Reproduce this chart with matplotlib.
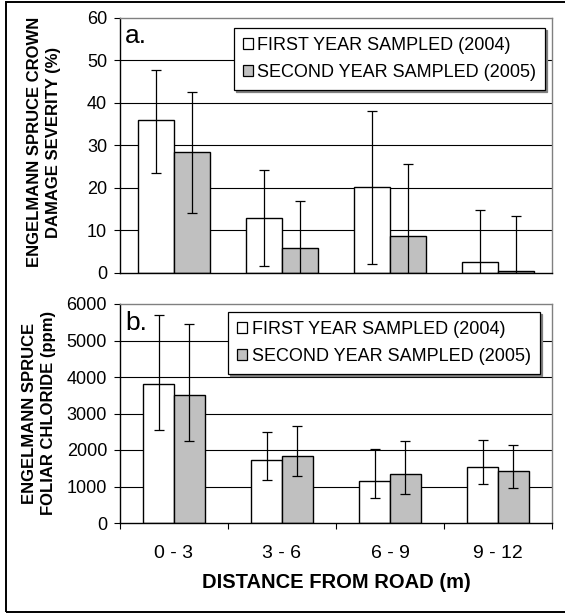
import matplotlib
matplotlib.use("Agg")
import matplotlib.pyplot as plt
from matplotlib.patches import Rectangle
import numpy as np

plt.rcParams['font.family'] = ['Liberation Sans', 'DejaVu Sans']

# distance classes
distances = ['0 - 3', '3 - 6', '6 - 9', '9 - 12']
series_names = ['FIRST YEAR SAMPLED (2004)', 'SECOND YEAR SAMPLED (2005)']

# a. crown damage severity (%) - bar value, error bar low end, error bar high end
sev_2004 = [36.0, 12.9, 20.2, 2.7]
sev_2004_lo = [23.5, 1.6, 2.1, -9.5]
sev_2004_hi = [47.8, 24.2, 38.2, 14.9]
sev_2005 = [28.5, 5.9, 8.6, 0.4]
sev_2005_lo = [14.1, -5.2, -8.4, -12.5]
sev_2005_hi = [42.5, 17.0, 25.6, 13.3]

# b. foliar chloride (ppm)
cl_2004 = [3800, 1735, 1160, 1535]
cl_2004_lo = [2550, 1190, 690, 1060]
cl_2004_hi = [5700, 2480, 2040, 2280]
cl_2005 = [3495, 1840, 1335, 1435]
cl_2005_lo = [2240, 1290, 790, 960]
cl_2005_hi = [5455, 2650, 2250, 2145]

sev_ticks = [0, 10, 20, 30, 40, 50, 60]
cl_ticks = [0, 1000, 2000, 3000, 4000, 5000, 6000]

W, H = 565, 613
fig = plt.figure(figsize=(W / 100, H / 100), dpi=100)

# outer frame
fig.patches.append(Rectangle((6 / W, 1 / H), 1.2, 1 - 3 / H, transform=fig.transFigure,
                             fill=False, edgecolor='black', lw=1.4))

ax1 = fig.add_axes([120 / W, 1 - 273 / H, 432 / W, 255 / H])
ax2 = fig.add_axes([120 / W, 1 - 523 / H, 432 / W, 219 / H])

colors = ['white', '#c0c0c0']


def draw_panel(ax, vals, los, his, width, ticks, label_letter, letter_y, leg_anchor):
    x = np.arange(len(distances))
    offsets = [-width / 2, width / 2]
    handles = []
    for k in range(2):
        v = np.array(vals[k], dtype=float)
        yerr = [v - np.array(los[k]), np.array(his[k]) - v]
        ax.bar(x + offsets[k], v, width=width, color=colors[k], edgecolor='black',
               linewidth=1.0, zorder=2)
        ax.errorbar(x + offsets[k], v, yerr=yerr, fmt='none', ecolor='black',
                    elinewidth=0.9, capsize=3.6, capthick=0.9, zorder=3)
        handles.append(Rectangle((0, 0), 1, 1, facecolor=colors[k], edgecolor='black', lw=0.9))
    ax.set_xlim(-0.5, len(distances) - 0.5)
    ax.set_ylim(ticks[0], ticks[-1])
    ax.set_yticks(ticks)
    for t in ticks[1:-1]:
        ax.axhline(t, color='black', lw=0.8, zorder=0)
    ax.tick_params(axis='y', direction='out', length=4.3, width=0.8, pad=5,
                   labelsize=13, colors='black')
    for s in ['top', 'right']:
        ax.spines[s].set_color('#808080')
        ax.spines[s].set_linewidth(1.0)
    for s in ['left', 'bottom']:
        ax.spines[s].set_color('black')
        ax.spines[s].set_linewidth(1.0)
    ax.text(0.012, letter_y, label_letter, transform=ax.transAxes, fontsize=19,
            va='baseline', ha='left')
    leg = ax.legend(handles, series_names, loc='upper right', bbox_to_anchor=leg_anchor,
                    borderaxespad=0, fontsize=13, frameon=True, fancybox=False,
                    edgecolor='black', handlelength=0.55, handleheight=0.55,
                    handletextpad=0.25, labelspacing=0.55, borderpad=0.5,
                    shadow={'color': '#808080', 'alpha': 1, 'ox': 1.5, 'oy': -1.5})
    leg.get_frame().set_linewidth(0.9)
    leg.set_zorder(5)


draw_panel(ax1, [sev_2004, sev_2005], [sev_2004_lo, sev_2005_lo], [sev_2004_hi, sev_2005_hi],
           0.333, sev_ticks, 'a.', 0.902, (0.984, 0.961))
ax1.set_xticks([])

draw_panel(ax2, [cl_2004, cl_2005], [cl_2004_lo, cl_2005_lo], [cl_2004_hi, cl_2005_hi],
           0.285, cl_ticks, 'b.', 0.881, (0.972, 0.9635))
ax2.set_xticks(np.arange(len(distances) + 1) - 0.5)
ax2.set_xticklabels([])
ax2.set_xticks(np.arange(len(distances)), minor=True)
ax2.set_xticklabels(distances, minor=True, fontsize=14)
ax2.tick_params(axis='x', which='major', direction='out', length=4.3, width=0.8)
ax2.tick_params(axis='x', which='minor', length=0, pad=16)

fig.text(44 / W, 1 - 142 / H, 'ENGELMANN SPRUCE CROWN\nDAMAGE SEVERITY (%)', rotation=90,
         ha='center', va='center', multialignment='center', fontsize=12,
         fontweight='bold', linespacing=1.3)
fig.text(39 / W, 1 - 413 / H, 'ENGELMANN SPRUCE\nFOLIAR CHLORIDE (ppm)', rotation=90,
         ha='center', va='center', multialignment='center', fontsize=12,
         fontweight='bold', linespacing=1.3)
fig.text(336 / W, 1 - 582 / H, 'DISTANCE FROM ROAD (m)', ha='center', va='center',
         fontsize=14.5, fontweight='bold')

fig.savefig('out.png', dpi=100)
